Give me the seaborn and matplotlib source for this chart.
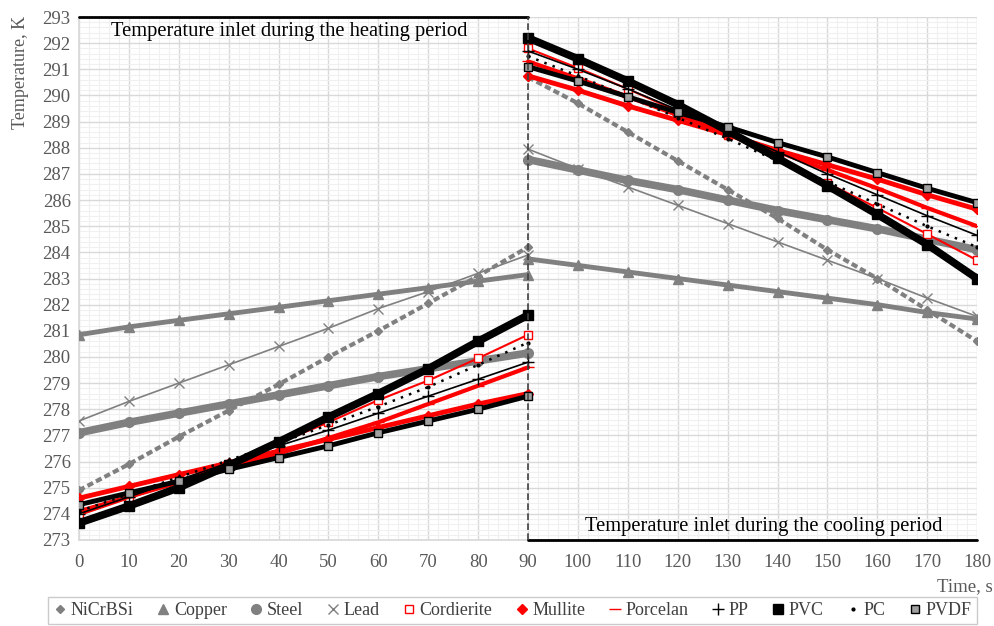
import matplotlib
matplotlib.use("Agg")
import matplotlib.pyplot as plt
from matplotlib.lines import Line2D
from matplotlib.ticker import MultipleLocator
import pandas as pd
import seaborn as sns

# time axis, s
HEAT_TIME = [0, 10, 20, 30, 40, 50, 60, 70, 80, 90]
COOL_TIME = [90, 100, 110, 120, 130, 140, 150, 160, 170, 180]

# temperatures, K
NICRBSI_HEAT = [274.9, 275.9, 276.95, 277.95, 278.95, 280.0, 281.0, 282.05, 283.1, 284.2]
NICRBSI_COOL = [290.7, 289.7, 288.6, 287.5, 286.4, 285.3, 284.1, 283.0, 281.8, 280.6]
COPPER_HEAT = [280.85, 281.15, 281.4, 281.65, 281.9, 282.15, 282.4, 282.65, 282.9, 283.15]
COPPER_COOL = [283.75, 283.5, 283.25, 283.0, 282.75, 282.5, 282.25, 282.0, 281.7, 281.45]
STEEL_HEAT = [277.1, 277.5, 277.85, 278.2, 278.55, 278.9, 279.25, 279.55, 279.85, 280.15]
STEEL_COOL = [287.55, 287.15, 286.75, 286.4, 286.0, 285.6, 285.25, 284.9, 284.5, 284.1]
LEAD_HEAT = [277.55, 278.3, 279.0, 279.7, 280.4, 281.1, 281.85, 282.5, 283.2, 283.9]
LEAD_COOL = [287.95, 287.2, 286.5, 285.8, 285.1, 284.4, 283.7, 283.0, 282.25, 281.55]
CORDIERITE_HEAT = [273.95, 274.6, 275.25, 275.9, 276.7, 277.5, 278.35, 279.1, 279.95, 280.85]
CORDIERITE_COOL = [291.8, 291.05, 290.25, 289.4, 288.5, 287.6, 286.65, 285.7, 284.7, 283.7]
MULLITE_HEAT = [274.6, 275.05, 275.5, 275.95, 276.4, 276.85, 277.3, 277.75, 278.2, 278.6]
MULLITE_COOL = [290.75, 290.2, 289.6, 289.05, 288.5, 287.9, 287.35, 286.8, 286.2, 285.65]
PORCELAN_HEAT = [274.1, 274.65, 275.2, 275.75, 276.3, 276.9, 277.5, 278.2, 278.9, 279.6]
PORCELAN_COOL = [291.3, 290.65, 289.95, 289.25, 288.55, 287.85, 287.15, 286.45, 285.7, 285.0]
PP_HEAT = [274.0, 274.65, 275.3, 275.95, 276.6, 277.2, 277.85, 278.5, 279.15, 279.8]
PP_COOL = [291.7, 291.0, 290.25, 289.45, 288.65, 287.85, 287.0, 286.2, 285.4, 284.65]
PVC_HEAT = [273.65, 274.3, 275.0, 275.85, 276.75, 277.7, 278.6, 279.55, 280.6, 281.6]
PVC_COOL = [292.2, 291.4, 290.55, 289.65, 288.65, 287.6, 286.55, 285.45, 284.3, 283.0]
PC_HEAT = [274.1, 274.75, 275.4, 276.05, 276.7, 277.4, 278.1, 278.85, 279.7, 280.55]
PC_COOL = [291.5, 290.75, 289.95, 289.15, 288.35, 287.5, 286.7, 285.85, 285.0, 284.2]
PVDF_HEAT = [274.35, 274.8, 275.25, 275.7, 276.15, 276.6, 277.1, 277.55, 278.0, 278.5]
PVDF_COOL = [291.1, 290.55, 289.95, 289.35, 288.8, 288.2, 287.65, 287.05, 286.45, 285.9]

MATERIALS = ["NiCrBSi", "Copper", "Steel", "Lead", "Cordierite", "Mullite",
             "Porcelan", "PP", "PVC", "PC", "PVDF"]
HEAT_SERIES = [NICRBSI_HEAT, COPPER_HEAT, STEEL_HEAT, LEAD_HEAT, CORDIERITE_HEAT, MULLITE_HEAT,
               PORCELAN_HEAT, PP_HEAT, PVC_HEAT, PC_HEAT, PVDF_HEAT]
COOL_SERIES = [NICRBSI_COOL, COPPER_COOL, STEEL_COOL, LEAD_COOL, CORDIERITE_COOL, MULLITE_COOL,
               PORCELAN_COOL, PP_COOL, PVC_COOL, PC_COOL, PVDF_COOL]

INLET_HEAT = 293
INLET_COOL = 273

GRAY = "#808080"
RED = "#ff0000"
BLACK = "#000000"

STYLES = {
    "NiCrBSi": dict(color=GRAY, lw=3.0, ls=(0, (1.5, 0.8)), marker="D", ms=4, mfc=GRAY, mec=GRAY),
    "Copper": dict(color=GRAY, lw=3.5, ls="-", marker="^", ms=7, mfc=GRAY, mec=GRAY),
    "Steel": dict(color=GRAY, lw=5.5, ls="-", marker="o", ms=7, mfc=GRAY, mec=GRAY),
    "Lead": dict(color=GRAY, lw=1.2, ls="-", marker="x", ms=7, mfc=GRAY, mec=GRAY),
    "Cordierite": dict(color=RED, lw=1.5, ls="-", marker="s", ms=6, mfc="white", mec=RED),
    "Mullite": dict(color=RED, lw=3.5, ls="-", marker="D", ms=5, mfc=RED, mec=RED),
    "Porcelan": dict(color=RED, lw=3.0, ls="-", marker="_", ms=8, mfc=RED, mec=RED),
    "PP": dict(color=BLACK, lw=1.2, ls="-", marker="+", ms=9, mfc=BLACK, mec=BLACK),
    "PVC": dict(color=BLACK, lw=5.5, ls="-", marker="s", ms=7, mfc=BLACK, mec=BLACK),
    "PC": dict(color=BLACK, lw=1.8, ls=(0, (1, 2.5)), marker=".", ms=4, mfc=BLACK, mec=BLACK),
    "PVDF": dict(color=BLACK, lw=3.5, ls="-", marker="s", ms=6, mfc="#a0a0a0", mec=BLACK),
}

rows = []
for name, heat, cool in zip(MATERIALS, HEAT_SERIES, COOL_SERIES):
    for t, v in zip(HEAT_TIME, heat):
        rows.append({"material": name, "period": "heating", "time": t, "temp": v})
    for t, v in zip(COOL_TIME, cool):
        rows.append({"material": name, "period": "cooling", "time": t, "temp": v})
df = pd.DataFrame(rows)

sns.set_theme(style="white")
plt.rcParams["font.family"] = ["Liberation Serif", "DejaVu Serif"]

fig = plt.figure(figsize=(9.95, 6.26), dpi=100)
ax = fig.add_axes([0.0794, 0.1374, 0.9026, 0.8354])

for name in MATERIALS:
    st = STYLES[name]
    for period in ["heating", "cooling"]:
        part = df[(df["material"] == name) & (df["period"] == period)]
        sns.lineplot(data=part, x="time", y="temp", ax=ax, color=st["color"],
                     linewidth=st["lw"], linestyle=st["ls"], marker=st["marker"],
                     markersize=st["ms"], markerfacecolor=st["mfc"],
                     markeredgecolor=st["mec"], markeredgewidth=1.0,
                     legend=False, zorder=3)

# inlet temperature lines and the switch at 90 s
ax.plot([HEAT_TIME[0], HEAT_TIME[-1]], [INLET_HEAT, INLET_HEAT], color="black", lw=2, clip_on=False, zorder=4)
ax.plot([COOL_TIME[0], COOL_TIME[-1]], [INLET_COOL, INLET_COOL], color="black", lw=2, clip_on=False, zorder=4)
ax.plot([HEAT_TIME[-1], HEAT_TIME[-1]], [INLET_COOL, INLET_HEAT], color="#404040", lw=1.2,
        ls=(0, (4, 2)), zorder=4)

ax.text(42.2, 292.45, "Temperature inlet during the heating period", ha="center", va="center",
        fontsize=14.8, color="black")
ax.text(137.3, 273.5, "Temperature inlet during the cooling period", ha="center", va="center",
        fontsize=14.8, color="black")

ax.set_xlim(0, 180)
ax.set_ylim(273, 293)
ax.xaxis.set_major_locator(MultipleLocator(10))
ax.xaxis.set_minor_locator(MultipleLocator(2))
ax.yaxis.set_major_locator(MultipleLocator(1))
ax.yaxis.set_minor_locator(MultipleLocator(0.2))
ax.grid(which="major", color="#d9d9d9", lw=1.0)
ax.grid(which="minor", color="#f0f0f0", lw=0.8)
ax.set_axisbelow(True)
ax.tick_params(axis="both", which="both", length=0, labelsize=13.5, labelcolor="#595959")
ax.tick_params(axis="x", pad=10)
ax.tick_params(axis="y", pad=6)
for side in ["top", "right"]:
    ax.spines[side].set_visible(False)
for side in ["left", "bottom"]:
    ax.spines[side].set_color("#d9d9d9")
ax.set_xlabel("")
ax.set_ylabel("")

fig.text(0.012, 0.975, "Temperature, K", rotation=90, ha="left", va="top",
         fontsize=13, color="#595959")
fig.text(0.998, 0.063, "Time, s", ha="right", va="center", fontsize=13.5, color="#595959")

handles = []
for name in MATERIALS:
    st = STYLES[name]
    handles.append(Line2D([], [], linestyle="none", marker=st["marker"], markersize=st["ms"],
                          markerfacecolor=st["mfc"], markeredgecolor=st["mec"],
                          markeredgewidth=1.0, label=name))
leg = fig.legend(handles=handles, loc="lower center", bbox_to_anchor=(0.515, -0.012), ncol=11,
                 frameon=True, fancybox=False, edgecolor="#bfbfbf", fontsize=13,
                 handlelength=0.8, handletextpad=0.2, columnspacing=1.22, borderpad=0.3)
for txt in leg.get_texts():
    txt.set_color("#404040")

fig.savefig("out.png", dpi=100)
